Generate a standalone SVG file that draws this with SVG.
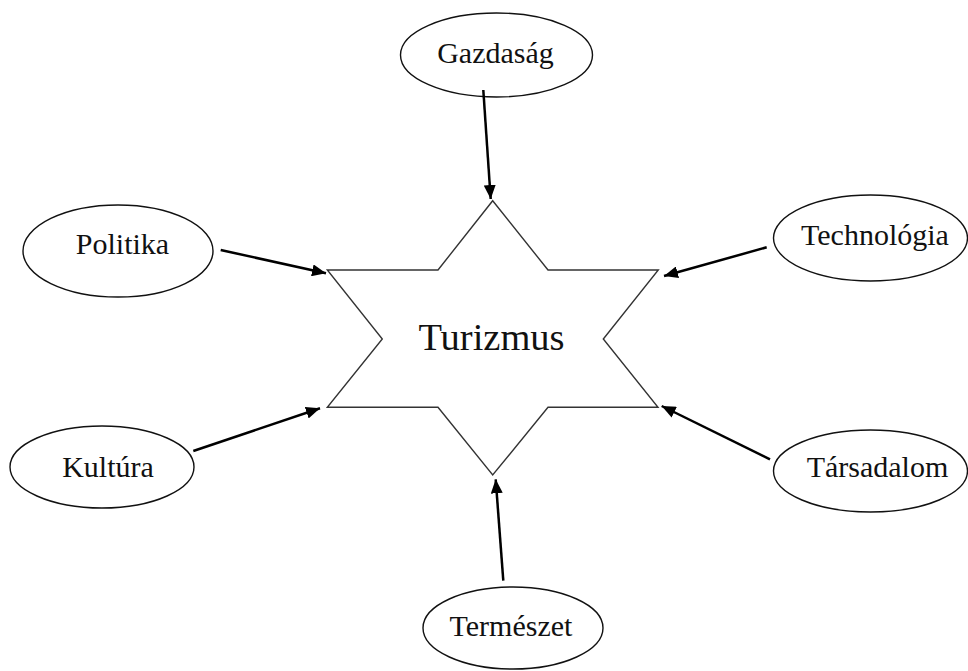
<svg xmlns="http://www.w3.org/2000/svg" width="968" height="671" viewBox="0 0 968 671">
<style>
.bg{fill:#fff}
.node ellipse{fill:#fff;stroke:#111;stroke-width:1.4}
.star{fill:#fff;stroke:#333;stroke-width:1.4;stroke-linejoin:miter}
text{font-family:"Liberation Serif","Times New Roman",serif;fill:#111;text-anchor:middle}
.lbl{font-size:30px}
.big{font-size:38.5px}
.conn line{stroke:#000;stroke-width:2.5;marker-end:url(#ah)}
</style>
<defs>
<marker id="ah" markerUnits="userSpaceOnUse" markerWidth="14" markerHeight="12" viewBox="0 0 14 12" refX="14" refY="6" orient="auto">
<path d="M0,0 L14,6 L0,12 Z" fill="#000"/>
</marker>
</defs>
<rect class="bg" x="0" y="0" width="968" height="671"/>
<g id="turizmus">
<polygon class="star" points="492.7,200.7 548,270 658.3,270 603.3,339 658,407.3 548,407.3 492.7,475 438,407.3 327.3,407.3 382.3,339 327.3,270 438,270"/>
<text class="big" x="491.5" y="350">Turizmus</text>
</g>
<g id="gazdasag" class="node">
<ellipse cx="496.5" cy="55" rx="96" ry="42"/>
<text class="lbl" x="495.5" y="63">Gazdaság</text>
</g>
<g id="politika" class="node">
<ellipse cx="118" cy="251" rx="95" ry="46"/>
<text class="lbl" x="122.5" y="254">Politika</text>
</g>
<g id="technologia" class="node">
<ellipse cx="870.5" cy="238" rx="97" ry="43"/>
<text class="lbl" x="875" y="245">Technológia</text>
</g>
<g id="kultura" class="node">
<ellipse cx="102" cy="467" rx="92" ry="41"/>
<text class="lbl" x="108" y="477">Kultúra</text>
</g>
<g id="tarsadalom" class="node">
<ellipse cx="870.5" cy="471" rx="97" ry="41"/>
<text class="lbl" x="877.5" y="477">Társadalom</text>
</g>
<g id="termeszet" class="node">
<ellipse cx="513" cy="628" rx="90" ry="41"/>
<text class="lbl" x="511" y="636">Természet</text>
</g>
<g id="connectors" class="conn">
<line x1="483.3" y1="90" x2="490.7" y2="199"/>
<line x1="220.7" y1="250" x2="326" y2="273.3"/>
<line x1="766.7" y1="247.3" x2="664" y2="276"/>
<line x1="193.3" y1="451" x2="320" y2="408.3"/>
<line x1="770" y1="459.3" x2="661.7" y2="406"/>
<line x1="503.3" y1="580.7" x2="495.7" y2="479.3"/>
</g>
</svg>
